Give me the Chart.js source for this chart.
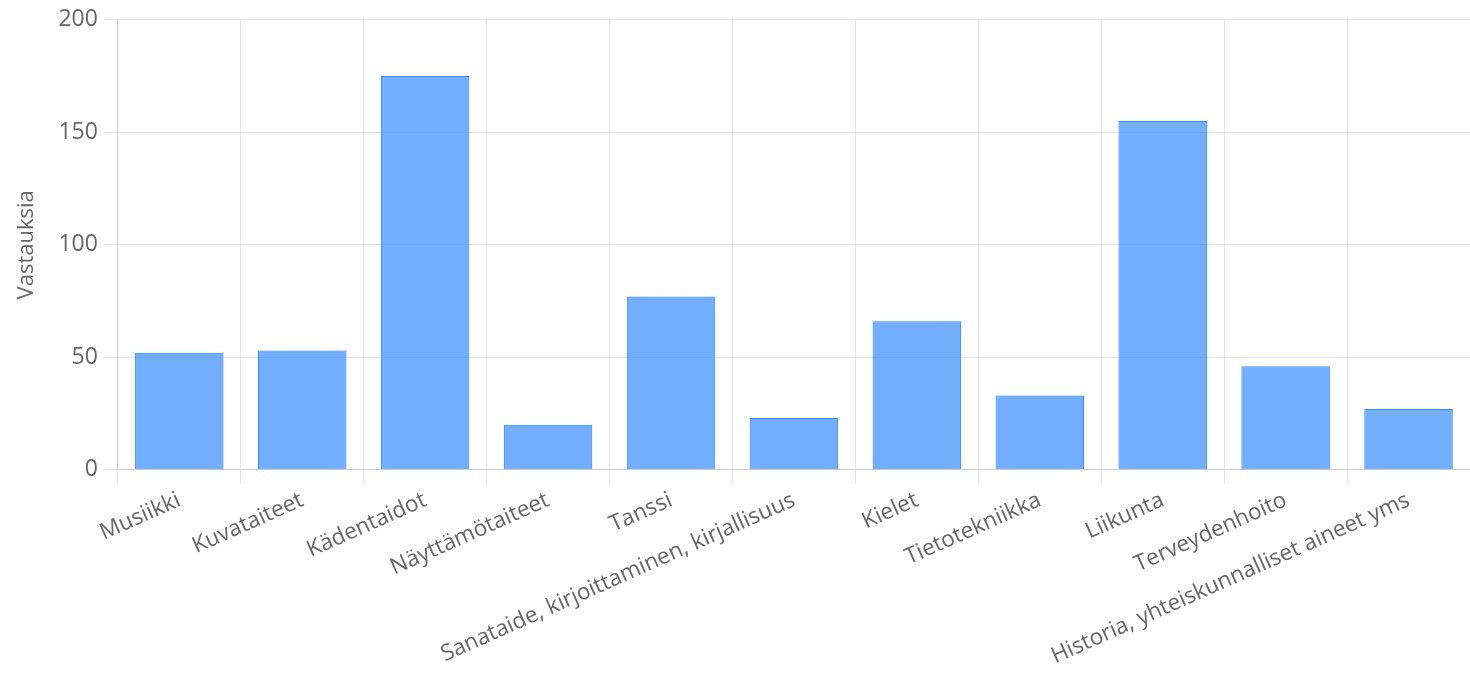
<!DOCTYPE html>
<html>
<head>
<meta charset="utf-8">
<script src="https://cdn.jsdelivr.net/npm/chart.js@4/dist/chart.umd.min.js"></script>
<style>
  html, body { margin: 0; padding: 0; background: #fff; }
  #wrap { width: 1470px; height: 685px; position: relative; }
</style>
</head>
<body>
<div id="wrap"><canvas id="c"></canvas></div>
<script>
const categories = ["Musiikki", "Kuvataiteet", "Kädentaidot", "Näyttämötaiteet", "Tanssi", "Sanataide, kirjoittaminen, kirjallisuus", "Kielet", "Tietotekniikka", "Liikunta", "Terveydenhoito", "Historia, yhteiskunnalliset aineet yms"];
const values = [52, 53, 175, 20, 77, 23, 66, 33, 155, 46, 27];
const yTitle = "Vastauksia";

new Chart(document.getElementById('c'), {
  type: 'bar',
  data: {
    labels: categories,
    datasets: [{
      label: yTitle,
      data: values,
      backgroundColor: 'rgba(54,140,250,0.7)',
      borderColor: 'rgba(54,140,250,1)',
      borderWidth: 1
    }]
  },
  options: {
    responsive: true,
    maintainAspectRatio: false,
    animation: false,
    layout: { padding: { left: 10, right: 0, top: 0, bottom: 12 } },
    plugins: { legend: { display: false }, tooltip: { enabled: false } },
    scales: {
      x: {
        grid: { color: 'rgba(0,0,0,0.1)', tickLength: 14 },
        ticks: {
          color: '#666',
          font: { family: 'Open Sans', size: 22.5 },
          minRotation: 24, maxRotation: 24,
          autoSkip: false
        }
      },
      y: {
        min: 0, max: 200,
        grid: { color: 'rgba(0,0,0,0.1)', tickLength: 14 },
        ticks: {
          stepSize: 50,
          color: '#666',
          font: { family: 'Open Sans', size: 23 },
          padding: 6
        },
        title: {
          display: true,
          text: yTitle,
          color: '#666',
          padding: { top: 4, bottom: 12 },
          font: { family: 'Open Sans', size: 22 }
        }
      }
    }
  }
});
</script>
</body>
</html>
